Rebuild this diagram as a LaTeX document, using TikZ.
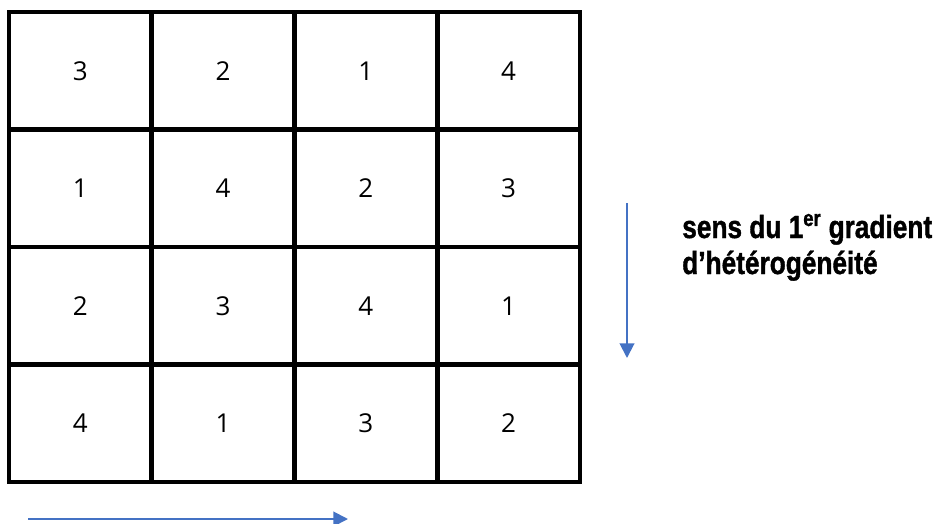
\documentclass[tikz,border=0pt]{standalone}
\usepackage{fontspec}
\usetikzlibrary{arrows.meta}
\newfontfamily\numfont{Open Sans}
\newfontfamily\labfont[FakeStretch=0.82,FakeBold=1.2]{Liberation Sans}
\definecolor{arrowblue}{HTML}{4472C4}
\begin{document}
\begin{tikzpicture}[x=0.75pt,y=-0.75pt,
  cell/.style={draw=black,line width=3.4pt,rectangle,inner sep=0pt,
    minimum width=107.06pt,minimum height=88.125pt,
    font=\numfont\fontsize{19.5}{22}\selectfont},
  garrow/.style={draw=arrowblue,line width=1.5pt,-{Triangle[width=11pt,length=11pt]}},
  lab/.style={align=left,inner sep=0pt,font=\labfont\bfseries\fontsize{24}{27}\selectfont}]
\useasboundingbox (0,0) rectangle (934,524);
\def\cw{142.75}\def\ch{117.5}
\foreach \r/\vals in {0/{3,2,1,4},1/{1,4,2,3},2/{2,3,4,1},3/{4,1,3,2}}{
  \foreach \v [count=\c from 0] in \vals {
    \node[cell] (c\r\c) at ({9+\cw*(\c+0.5)},{12+\ch*(\r+0.5)}) {\v};
  }
}
\coordinate (vs) at (627,203);
\coordinate (ve) at (627,358);
\draw[garrow] (vs) -- (ve);
\coordinate (hs) at (28,519);
\coordinate (he) at (348,519);
\draw[garrow] (hs) -- (he);
\node[lab,anchor=base west] (label) at (682,274) {sens du 1\textsuperscript{er} gradient\\d’hétérogénéité};
\end{tikzpicture}
\end{document}
